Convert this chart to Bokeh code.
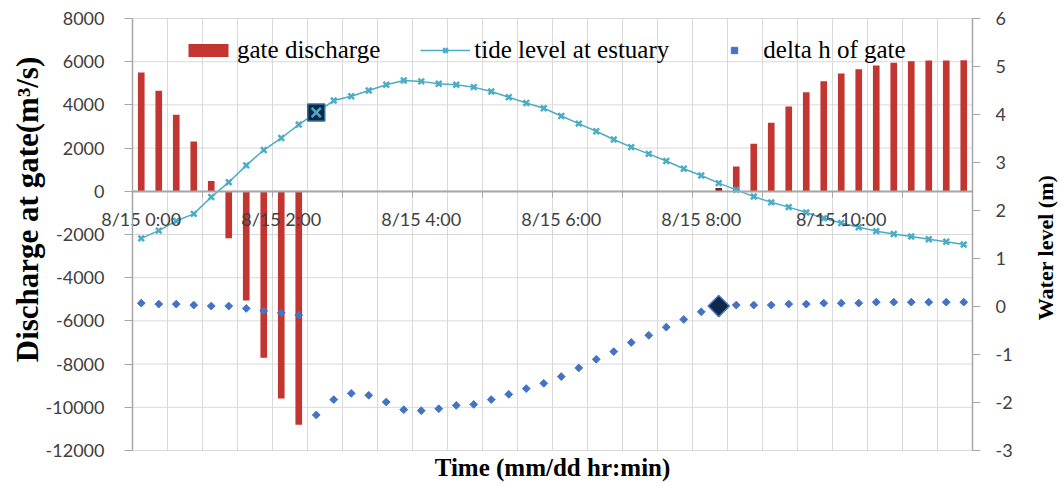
import math
from bokeh.plotting import figure
from bokeh.models import (LinearAxis, Range1d, FixedTicker, Legend, LegendItem, Label)
from bokeh.embed import file_html
from bokeh.resources import INLINE

# ---------------- data ----------------
categories = [f"8/15 {h}:{m:02d}" for h in range(12) for m in (0, 15, 30, 45)]
x_tick_labels = ["8/15 0:00", "8/15 2:00", "8/15 4:00", "8/15 6:00", "8/15 8:00", "8/15 10:00"]
left_ticks = [-12000, -10000, -8000, -6000, -4000, -2000, 0, 2000, 4000, 6000, 8000]
right_ticks = [-3, -2, -1, 0, 1, 2, 3, 4, 5, 6]

gate_discharge = [5500, 4650, 3540, 2300, 480, -2170, -5060, -7710, -9590, -10810,
                  0, 0, 0, 0, 0, 0, 0, 0, 0, 0, 0, 0, 0, 0, 0, 0, 0, 0, 0, 0, 0, 0, 0,
                  150, 1150, 2200, 3170, 3930, 4590, 5100, 5450, 5650, 5820, 5950,
                  6020, 6060, 6060, 6070]
tide_level = [1.42, 1.58, 1.78, 1.93, 2.28, 2.59, 2.94, 3.26, 3.51, 3.79,
              4.04, 4.29, 4.38, 4.50, 4.62, 4.71, 4.69, 4.64, 4.62, 4.57,
              4.48, 4.36, 4.24, 4.13, 3.97, 3.81, 3.65, 3.48, 3.32, 3.18,
              3.03, 2.87, 2.73, 2.57, 2.43, 2.29, 2.17, 2.07, 1.96, 1.84,
              1.74, 1.65, 1.57, 1.51, 1.46, 1.40, 1.35, 1.29]
delta_h = [0.07, 0.05, 0.05, 0.03, 0.01, 0.01, -0.04, -0.09, -0.13, -0.18,
           -2.26, -1.94, -1.81, -1.85, -1.99, -2.15, -2.17, -2.13, -2.06, -2.04,
           -1.94, -1.83, -1.71, -1.60, -1.46, -1.28, -1.10, -0.94, -0.75, -0.60,
           -0.43, -0.27, -0.11, 0.01, 0.03, 0.03, 0.03, 0.05, 0.05, 0.07,
           0.07, 0.07, 0.09, 0.09, 0.09, 0.09, 0.09, 0.09]
tide_highlight = 10
delta_highlight = 33

xs = list(range(len(categories)))
n = len(categories)
x_lo, x_hi = -0.5, n - 0.5
y_lo, y_hi = left_ticks[0], left_ticks[-1]
r_lo, r_hi = right_ticks[0], right_ticks[-1]

# ---------------- layout (pixels) ----------------
W, H = 1060, 484
PL, PR, PT, PB = 132, 972, 18, 450   # plot area edges on the canvas
px_x = (PR - PL) / (x_hi - x_lo)
px_y = (PB - PT) / (y_hi - y_lo)
px_r = (PB - PT) / (r_hi - r_lo)
x_range = Range1d(x_lo - PL / px_x, x_hi + (W - PR) / px_x)
y_range = Range1d(y_lo - (H - PB) / px_y, y_hi + PT / px_y)
r_range = Range1d(r_lo - (H - PB) / px_r, r_hi + PT / px_r)

# ---------------- styles ----------------
TICK_FONT = "Lato"
SERIF = "Liberation Serif"
GRID = "#D9D9D9"
AXIS = "#A6A6A6"
BAR = "#C23531"
BAR_DARK = "#7E1F1F"
TIDE = "#4BACC6"
DELTA = "#4472C4"
NAVY = "#10294A"
LABEL_COLOR = "#404040"

p = figure(width=W, height=H, x_range=x_range, y_range=y_range,
           x_axis_location=None, y_axis_location=None,
           output_backend="svg", toolbar_location=None,
           min_border_left=0, min_border_right=0,
           min_border_top=0, min_border_bottom=0)
p.outline_line_color = None
p.grid.visible = False
p.extra_y_ranges = {"wl": r_range}

# grid lines
vx = [x_lo + 2 * k for k in range(n // 2 + 1)]
p.segment(x0=vx, x1=vx, y0=[y_lo] * len(vx), y1=[y_hi] * len(vx),
          line_color=GRID, line_width=1)
p.segment(x0=[x_lo] * len(left_ticks), x1=[x_hi] * len(left_ticks),
          y0=left_ticks, y1=left_ticks, line_color=GRID, line_width=1)


def style_axis(ax, tick_out, standoff):
    ax.axis_line_color = AXIS
    ax.axis_line_width = 1.5
    ax.major_tick_line_color = AXIS
    ax.major_tick_out = tick_out
    ax.major_tick_in = 0
    ax.minor_tick_line_color = None
    ax.major_label_standoff = standoff
    ax.major_label_text_font = TICK_FONT
    ax.major_label_text_font_size = "18px"
    ax.major_label_text_color = LABEL_COLOR


# left value axis
la = LinearAxis(fixed_location=x_lo, bounds=(y_lo, y_hi), ticker=FixedTicker(ticks=left_ticks))
la.major_label_overrides = {t: str(t) for t in left_ticks}
style_axis(la, 8, 20)
p.add_layout(la, "left")

# right value axis
ra = LinearAxis(y_range_name="wl", fixed_location=x_hi, bounds=(r_lo, r_hi),
                ticker=FixedTicker(ticks=right_ticks))
ra.major_label_overrides = {t: str(t) for t in right_ticks}
style_axis(ra, 8, 15)
p.add_layout(ra, "right")

# x axis on the zero line (labels)
xa = LinearAxis(fixed_location=0, bounds=(x_lo, x_hi),
                ticker=FixedTicker(ticks=[8 * k for k in range(len(x_tick_labels))]))
xa.major_label_overrides = {8 * k: lab for k, lab in enumerate(x_tick_labels)}
style_axis(xa, 0, 17)
xa.axis_line_width = 2
xa.major_tick_line_color = None
p.add_layout(xa, "below")

# tick marks on the zero line
ta = LinearAxis(fixed_location=0, bounds=(x_lo, x_hi),
                ticker=FixedTicker(ticks=[x_lo + 4 * k for k in range(n // 4 + 1)]))
style_axis(ta, 6, 0)
ta.axis_line_color = None
ta.major_label_text_color = None
p.add_layout(ta, "below")

# bars
bar_colors = [BAR_DARK if i == delta_highlight else BAR for i in xs]
bars = p.vbar(x=xs, top=gate_discharge, bottom=0, width=0.38,
              fill_color=bar_colors, line_color=None)

# tide level
tide_line = p.line(xs, tide_level, y_range_name="wl", line_color=TIDE, line_width=1.5)
tide_pts = p.scatter(xs, tide_level, y_range_name="wl", marker="x", size=8,
                     line_color=TIDE, line_width=2.5)
p.scatter([tide_highlight], [tide_level[tide_highlight]], y_range_name="wl",
          marker="square", size=17, fill_color=NAVY, line_color="#2F6F9F", line_width=1.5)
p.scatter([tide_highlight], [tide_level[tide_highlight]], y_range_name="wl",
          marker="x", size=13, line_color=TIDE, line_width=2.5)

# delta h
delta_pts = p.scatter(xs, delta_h, y_range_name="wl", marker="square", angle=math.pi / 4,
                      size=5.5, fill_color=DELTA, line_color=DELTA)
p.scatter([delta_highlight], [delta_h[delta_highlight]], y_range_name="wl",
          marker="square", angle=math.pi / 4, size=15, fill_color=NAVY,
          line_color=DELTA, line_width=1.5)

# legend
legend = Legend(items=[
    LegendItem(label="gate discharge", renderers=[bars]),
    LegendItem(label="tide level at estuary", renderers=[tide_line, tide_pts]),
    LegendItem(label="delta h of gate", renderers=[delta_pts]),
], orientation="horizontal", location=(183, H - 64))
legend.background_fill_alpha = 0
legend.border_line_alpha = 0
legend.padding = 0
legend.margin = 0
legend.spacing = 40
legend.glyph_width = 50
legend.glyph_height = 16
legend.label_standoff = 4
legend.label_text_font = SERIF
legend.label_text_font_size = "25px"
legend.label_text_color = "#000000"
p.add_layout(legend, "center")

# axis titles
title_style = dict(x_units="screen", y_units="screen", text_align="center",
                   text_baseline="middle", text_font=SERIF, text_font_style="bold",
                   text_color="#000000")
p.add_layout(Label(x=27, y=H - 209, text="Discharge at gate(m³/s)", angle=math.pi / 2,
                   text_font_size="31px", **title_style))
p.add_layout(Label(x=1045, y=H - 247, text="Water level (m)", angle=math.pi / 2,
                   text_font_size="22px", **title_style))
p.add_layout(Label(x=(PL + PR) / 2, y=H - 467, text="Time (mm/dd hr:min)",
                   text_font_size="25px", **title_style))

open("out.html", "w").write(file_html(p, INLINE))
